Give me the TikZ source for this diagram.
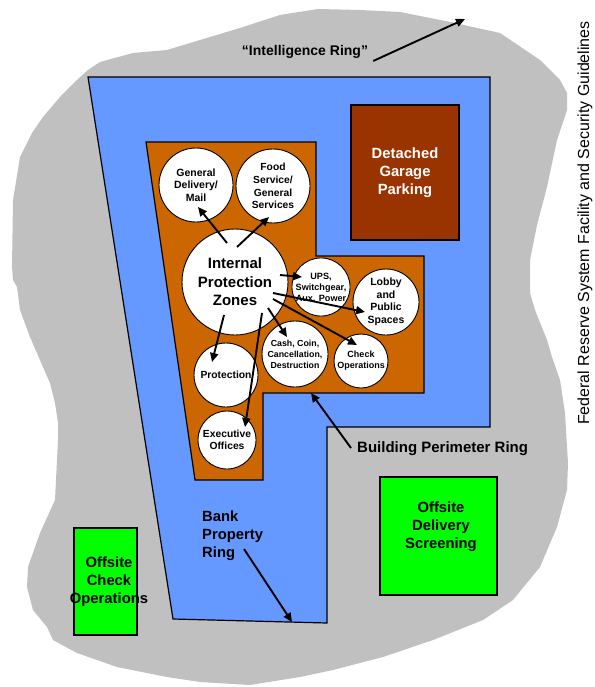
\documentclass[tikz,border=0pt]{standalone}
\usepackage{fontspec}
\setmainfont{Liberation Sans}
\usetikzlibrary{arrows.meta,calc}
\definecolor{ringgray}{HTML}{C0C0C0}
\definecolor{ringblue}{HTML}{6699FF}
\definecolor{bldorange}{HTML}{CC6600}
\definecolor{garagebrown}{HTML}{993300}
\definecolor{offgreen}{HTML}{00FF00}
\begin{document}
\begin{tikzpicture}[x=1pt,y=-1pt,
  zone/.style={circle, draw=black, line width=0.9pt, fill=white, inner sep=0pt,
    align=center, text=black, font=\bfseries\fontsize{10.5}{12.3}\selectfont},
  ptr/.style={line width=1.9pt, -{Triangle[length=9pt,width=8pt]}},
  area/.style={draw=black, line width=1.2pt},
  biglabel/.style={font=\bfseries\fontsize{14.8}{18}\selectfont, align=center, inner sep=0pt, text=black},
  boxnode/.style={draw=black, line width=1.2pt, inner sep=0pt}
]
\useasboundingbox (0,0) rectangle (594,687);

% Intelligence ring (gray blob)
\fill[ringgray] (100,62) -- (133,53) -- (167,50) -- (200,40) -- (240,28) -- (280,15) -- (318,9)
  -- (360,10) -- (400,12) -- (450,22) -- (500,33) -- (540,60) -- (560,80) -- (567,93)
  -- (567,110) -- (557,140) -- (547,187) -- (537,225) -- (530,260) -- (530,293) -- (535,310)
  -- (547,340) -- (552,357) -- (560,380) -- (565,413) -- (567,447) -- (568,463) -- (567,490)
  -- (557,527) -- (540,567) -- (513,600) -- (483,620) -- (433,640) -- (383,657) -- (333,670)
  -- (300,677) -- (250,685) -- (200,682) -- (167,677) -- (117,667) -- (77,653) -- (53,640)
  -- (47,627) -- (33,610) -- (27,587) -- (28,567) -- (40,533) -- (55,500) -- (58,440)
  -- (58,423) -- (55,403) -- (50,383) -- (43,367) -- (30,337) -- (20,310) -- (17,287)
  -- (13,280) -- (12,267) -- (13,200) -- (20,157) -- (32,133) -- (43,117) -- (60,97)
  -- (77,80) -- (88,70) -- cycle;

% Bank property ring (blue)
\filldraw[area, fill=ringblue] (88,77) -- (490,77) -- (490,427) -- (327,427) -- (327,623) -- (173,619) -- cycle;

% Building (orange)
\filldraw[area, fill=bldorange] (146,142) -- (316,142) -- (316,256) -- (424,256) -- (424,393)
  -- (263,393) -- (263,480) -- (195,480) -- cycle;

% Detached garage
\node[boxnode, fill=garagebrown, minimum width=108pt, minimum height=135pt,
  font=\bfseries\fontsize{14.8}{17.8}\selectfont, text=white, align=center] (garage) at (405,172.5)
  {Detached\\Garage\\Parking};

% Offsite boxes
\node[boxnode, fill=offgreen, minimum width=117pt, minimum height=118pt] (odsbox) at (438.5,536) {};
\node[biglabel] (ods) at (441,527) {Offsite\\Delivery\\Screening};
\node[boxnode, fill=offgreen, minimum width=63pt, minimum height=107pt] (ocobox) at (105.5,581.5) {};
\node[biglabel] (oco) at (109,582) {Offsite\\Check\\Operations};

% Zones
\node[zone, minimum size=106pt, font=\bfseries\fontsize{15}{18.5}\selectfont] (ipz) at (235,282) {Internal\\Protection\\Zones};
\node[zone, minimum size=74pt] (gen) at (196,185) {General\\Delivery/\\Mail};
\node[zone, minimum size=74pt, font=\bfseries\fontsize{10.3}{12.7}\selectfont] (food) at (273,186) {Food\\Service/\\General\\Services};
\node[zone, minimum size=56pt, font=\bfseries\fontsize{9.1}{11}\selectfont] (ups) at (321,287) {UPS,\\Switchgear,\\Aux. Power};
\node[zone, minimum size=66pt, font=\bfseries\fontsize{10.5}{12.5}\selectfont] (lobby) at (386,302) {Lobby\\and\\Public\\Spaces};
\node[zone, minimum size=66pt, font=\bfseries\fontsize{8.8}{10.9}\selectfont] (cash) at (295,354) {Cash, Coin,\\Cancellation,\\Destruction};
\node[zone, minimum size=54pt, font=\bfseries\fontsize{9}{10.8}\selectfont] (check) at (361,361) {Check\\Operations};
\node[zone, minimum size=64pt, font=\bfseries\fontsize{10.3}{12}\selectfont] (prot) at (226,375) {Protection};
\node[zone, minimum size=58pt, font=\bfseries\fontsize{10.3}{12.6}\selectfont] (exec) at (227,440) {Executive\\Offices};

% Arrows from internal protection zones
\draw[ptr] ($(ipz)+(-8,-39)$) -- ($(gen)+(2,22)$);
\draw[ptr] ($(ipz)+(2,-35)$) -- ($(food)+(-4,31)$);
\draw[ptr] ($(ipz)+(45,-7)$) -- ($(ups)+(-19,-10)$);
\draw[ptr] ($(ipz)+(38,11)$) -- ($(lobby)+(-21,10)$);
\draw[ptr] ($(ipz)+(38,17)$) -- ($(check)+(-4,-16)$);
\draw[ptr] ($(ipz)+(33,26)$) -- ($(cash)+(-8,-17)$);
\draw[ptr] ($(ipz)+(-11,33)$) -- ($(prot)+(-14,-13)$);
\draw[ptr] ($(ipz)+(27,31)$) -- ($(exec)+(18,-13)$);

% Ring labels
\node[biglabel, font=\bfseries\fontsize{14}{17}\selectfont, anchor=center] (intel) at (305,52) {“Intelligence Ring”};
\coordinate (intelTip) at (465,19);
\draw[ptr] ($(intel.east)+(5,9)$) -- (intelTip);

\node[biglabel, font=\bfseries\fontsize{15}{17}\selectfont, anchor=west] (bpr) at (357,449) {Building Perimeter Ring};
\coordinate (bprTip) at (311,393);
\draw[ptr] ($(bpr.west)+(-6,-1)$) -- (bprTip);

\node[biglabel, align=left, anchor=west] (bank) at (202,536) {Bank\\Property\\Ring};
\coordinate (bankFrom) at (244,549);
\coordinate (bankTip) at (292,622);
\draw[ptr] (bankFrom) -- (bankTip);

% Side title
\node[rotate=90, anchor=base, inner sep=0pt, font=\fontsize{16}{19}\selectfont] (title) at (589,223)
  {Federal Reserve System Facility and Security Guidelines};
\end{tikzpicture}
\end{document}
